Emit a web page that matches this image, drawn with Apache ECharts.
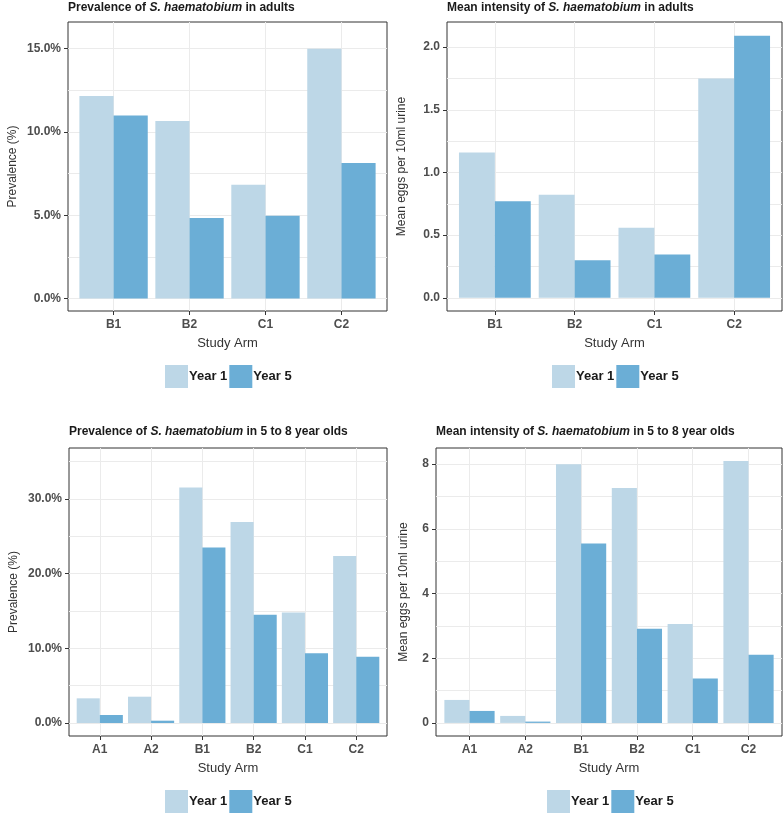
<!DOCTYPE html>
<html><head><meta charset="utf-8">
<script src="https://cdn.jsdelivr.net/npm/echarts@6/dist/echarts.min.js"></script>
<style>html,body{margin:0;padding:0;background:#fff}#c{width:784px;height:814px}</style>
</head><body><div id="c"></div>
<script>
// ---- data ----
const armsAdults = ['B1', 'B2', 'C1', 'C2'];
const armsChildren = ['A1', 'A2', 'B1', 'B2', 'C1', 'C2'];
const seriesNames = ['Year 1', 'Year 5'];

const prevAdultsY1 = [12.16, 10.65, 6.83, 15.0];
const prevAdultsY5 = [10.99, 4.83, 4.97, 8.14];
const intAdultsY1 = [1.16, 0.823, 0.558, 1.75];
const intAdultsY5 = [0.77, 0.30, 0.345, 2.09];
const prevChildY1 = [3.3, 3.52, 31.5, 26.9, 14.8, 22.35];
const prevChildY5 = [1.07, 0.31, 23.5, 14.5, 9.33, 8.88];
const intChildY1 = [0.71, 0.216, 8.0, 7.26, 3.06, 8.1];
const intChildY5 = [0.37, 0.04, 5.55, 2.91, 1.37, 2.11];

const prevAdultsTicks = [0, 5, 10, 15];
const prevAdultsMinor = [2.5, 7.5, 12.5];
const intAdultsTicks = [0, 0.5, 1.0, 1.5, 2.0];
const intAdultsMinor = [0.25, 0.75, 1.25, 1.75];
const prevChildTicks = [0, 10, 20, 30];
const prevChildMinor = [5, 15, 25, 35];
const intChildTicks = [0, 2, 4, 6, 8];
const intChildMinor = [1, 3, 5, 7];

const titles = [
  ['Prevalence of ', 'S. haematobium', ' in adults'],
  ['Mean intensity of ', 'S. haematobium', ' in adults'],
  ['Prevalence of ', 'S. haematobium', ' in 5 to 8 year olds'],
  ['Mean intensity of ', 'S. haematobium', ' in 5 to 8 year olds']
];
const yNames = ['Prevalence (%)', 'Mean eggs per 10ml urine', 'Prevalence (%)', 'Mean eggs per 10ml urine'];
const xName = 'Study Arm';

// ---- styling ----
const FONT = '"Liberation Sans", Arial, sans-serif';
const C1 = '#BDD7E7', C5 = '#6BAED6';
const GRIDC = '#EBEBEB';

const panels = [
  {cats: armsAdults, y1: prevAdultsY1, y5: prevAdultsY5, ticks: prevAdultsTicks, minor: prevAdultsMinor,
   min: -0.75, max: 16.6, fmt: v => v.toFixed(1) + '%',
   rect: {left: 68, top: 22, width: 319, height: 289}, yGap: 49, legendLeft: 165, legendTop: 365, titleTop: 2},
  {cats: armsAdults, y1: intAdultsY1, y5: intAdultsY5, ticks: intAdultsTicks, minor: intAdultsMinor,
   min: -0.105, max: 2.2, fmt: v => v.toFixed(1),
   rect: {left: 447, top: 22, width: 335, height: 289}, yGap: 39, legendLeft: 552, legendTop: 365, titleTop: 2},
  {cats: armsChildren, y1: prevChildY1, y5: prevChildY5, ticks: prevChildTicks, minor: prevChildMinor,
   min: -1.74, max: 36.8, fmt: v => v.toFixed(1) + '%',
   rect: {left: 69, top: 448, width: 318, height: 288}, yGap: 49, legendLeft: 165, legendTop: 790, titleTop: 426},
  {cats: armsChildren, y1: intChildY1, y5: intChildY5, ticks: intChildTicks, minor: intChildMinor,
   min: -0.405, max: 8.5, fmt: v => String(Math.round(v)),
   rect: {left: 436, top: 448, width: 346, height: 288}, yGap: 26, legendLeft: 547, legendTop: 790, titleTop: 426}
];

const grid = [], xAxis = [], yAxis = [], series = [], title = [], legend = [];
const tickLabelStyle = {color: '#4D4D4D', fontSize: 12, fontWeight: 'bold', fontFamily: FONT};
const nameStyle = {color: '#333', fontSize: 13, fontFamily: FONT};

panels.forEach((p, i) => {
  grid.push(Object.assign({show: true, borderColor: '#333', borderWidth: 1, backgroundColor: 'transparent', containLabel: false}, p.rect));
  const idx = p.cats.map((_, k) => k);
  xAxis.push({
    gridIndex: i, type: 'value', min: -0.6, max: p.cats.length - 0.4,
    axisLine: {show: false, onZero: false},
    axisTick: {show: true, customValues: idx, length: 4, lineStyle: {color: '#333'}},
    axisLabel: {customValues: idx, formatter: v => p.cats[Math.round(v)], margin: 8, ...tickLabelStyle},
    splitLine: {show: true, lineStyle: {color: GRIDC, width: 1}},
    name: xName, nameLocation: 'middle', nameGap: 26, nameTextStyle: nameStyle
  });
  yAxis.push({
    gridIndex: i, type: 'value', min: p.min, max: p.max, position: 'left',
    axisLine: {show: false, onZero: false},
    axisTick: {show: true, customValues: p.ticks, length: 4, lineStyle: {color: '#333'}},
    axisLabel: {customValues: p.ticks, formatter: p.fmt, margin: 7, ...tickLabelStyle},
    splitLine: {show: true, lineStyle: {color: GRIDC, width: 1}},
    name: yNames[i], nameLocation: 'middle', nameGap: p.yGap, nameTextStyle: {color: '#333', fontSize: 12, fontFamily: FONT}
  });
  yAxis.push({
    gridIndex: i, type: 'value', min: p.min, max: p.max, position: 'right',
    axisLine: {show: false, onZero: false},
    axisTick: {show: false, customValues: p.minor},
    axisLabel: {show: false, customValues: p.minor},
    splitLine: {show: true, lineStyle: {color: GRIDC, width: 1}}
  });
  const yIdx = i * 2;
  series.push({
    name: seriesNames[0], type: 'bar', xAxisIndex: i, yAxisIndex: yIdx,
    barWidth: '45%', barGap: '0%', itemStyle: {color: C1},
    data: p.y1.map((v, k) => [k, v])
  });
  series.push({
    name: seriesNames[1], type: 'bar', xAxisIndex: i, yAxisIndex: yIdx,
    barWidth: '45%', barGap: '0%', itemStyle: {color: C5},
    data: p.y5.map((v, k) => [k, v])
  });
  const t = titles[i];
  title.push({
    text: '{b|' + t[0] + '}{i|' + t[1] + '}{b|' + t[2] + '}',
    left: p.rect.left, top: p.titleTop, padding: 0,
    textStyle: {rich: {
      b: {fontWeight: 'bold', fontSize: 12, color: '#1a1a1a', fontFamily: FONT},
      i: {fontWeight: 'bold', fontStyle: 'italic', fontSize: 12, color: '#1a1a1a', fontFamily: FONT}
    }}
  });
  legend.push({
    data: seriesNames, left: p.legendLeft, top: p.legendTop, orient: 'horizontal',
    itemWidth: 23, itemHeight: 23, itemGap: 2, padding: 0, selectedMode: false, icon: 'rect',
    textStyle: {fontWeight: 'bold', fontSize: 13, color: '#1a1a1a', fontFamily: FONT, padding: [0, 0, 0, -4]}
  });
});

const chart = echarts.init(document.getElementById('c'), null, {renderer: 'canvas'});
chart.setOption({animation: false, backgroundColor: '#fff', grid, xAxis, yAxis, series, title, legend});
</script></body></html>
